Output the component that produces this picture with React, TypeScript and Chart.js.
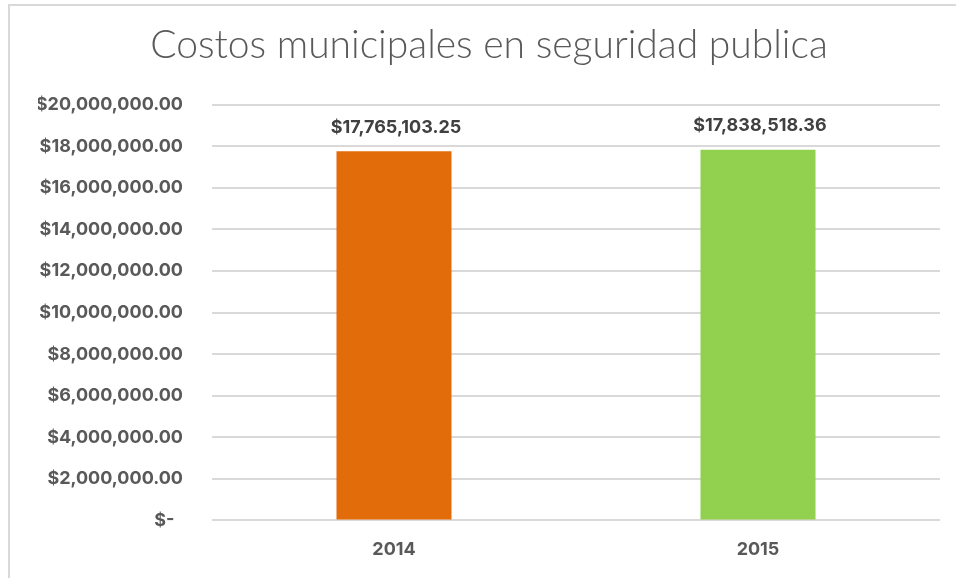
import React, { useEffect, useRef } from "react";
import { Chart, registerables } from "chart.js";

Chart.register(...registerables);

const categories = ["2014", "2015"];
const values = [17765103.25, 17838518.36];
const barColors = ["#E36C0A", "#92D050"];
const titleText = "Costos municipales en seguridad publica";
const yMax = 20000000;
const yStep = 2000000;

const money = (v: number) =>
  "$" + v.toLocaleString("en-US", { minimumFractionDigits: 2, maximumFractionDigits: 2 });

const labelFont = "Inter";
const labelSize = 18;

const dataLabelPlugin = {
  id: "dataLabels",
  afterDatasetsDraw(chart: any) {
    const ctx = chart.ctx;
    const meta = chart.getDatasetMeta(0);
    ctx.save();
    ctx.font = `bold ${labelSize}px "${labelFont}"`;
    ctx.fillStyle = "#404040";
    ctx.textAlign = "center";
    ctx.textBaseline = "middle";
    meta.data.forEach((bar: any, i: number) => {
      ctx.fillText(money(values[i]), bar.x + 2, bar.y - 24);
    });
    ctx.restore();
  },
};

export default function App() {
  const ref = useRef<HTMLCanvasElement>(null);
  useEffect(() => {
    if (!ref.current) return;
    const chart = new Chart(ref.current, {
      type: "bar",
      data: {
        labels: categories,
        datasets: [
          {
            data: values,
            backgroundColor: barColors,
            barPercentage: 0.316,
            categoryPercentage: 1,
          },
        ],
      },
      options: {
        responsive: false,
        animation: false,
        layout: { padding: { top: 4, left: 38, right: 16, bottom: 0 } },
        plugins: {
          legend: { display: false },
          tooltip: { enabled: false },
          title: {
            display: true,
            text: titleText,
            color: "#595959",
            font: { family: "Lato", size: 39, weight: "300" as any, lineHeight: 1.2 },
            padding: { top: 18, bottom: 36 },
          },
        },
        scales: {
          x: {
            grid: { display: false, drawTicks: false },
            border: { display: false },
            ticks: {
              color: "#595959",
              font: { family: labelFont, size: labelSize, weight: "bold" },
              padding: 18,
            },
          },
          y: {
            min: 0,
            max: yMax,
            afterFit(scale: any) {
              scale.width = 174;
            },
            grid: { color: "#d9d9d9", lineWidth: 2, drawTicks: false },
            border: { display: false },
            ticks: {
              stepSize: yStep,
              color: "#595959",
              font: { family: labelFont, size: labelSize, weight: "bold" },
              padding: 29,
              callback: (v: any) => (Number(v) === 0 ? "$-  " : money(Number(v))),
            },
          },
        },
      },
      plugins: [dataLabelPlugin],
    });
    return () => chart.destroy();
  }, []);
  return (
    <div style={{ position: "fixed", left: 0, top: 0, width: 956, height: 578, background: "#fff" }}>
      <div
        style={{
          position: "absolute",
          left: 8,
          top: 4,
          width: 1000,
          height: 600,
          borderLeft: "2px solid #d9d9d9",
          borderTop: "2px solid #d9d9d9",
        }}
      />
      <canvas ref={ref} width={956} height={578} style={{ position: "absolute", left: 0, top: 0 }} />
    </div>
  );
}
